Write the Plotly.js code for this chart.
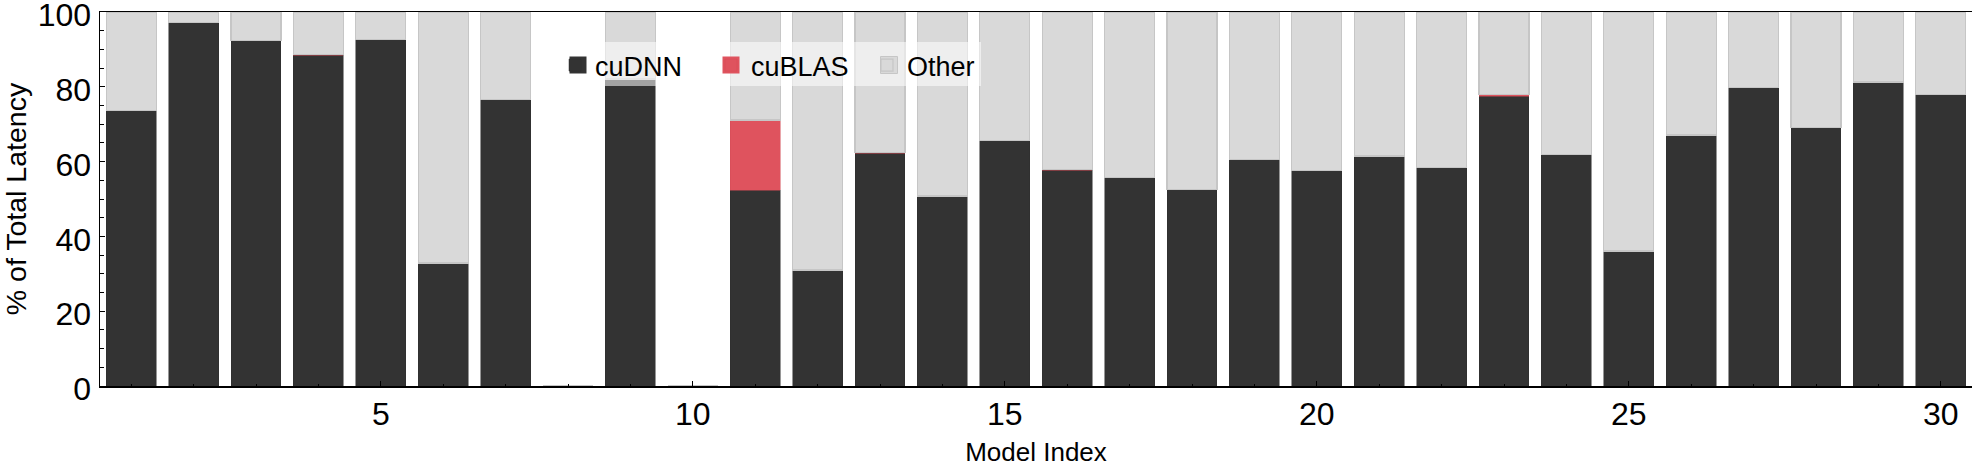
<!DOCTYPE html>
<html>
<head>
<meta charset="utf-8">
<script src="https://cdn.plot.ly/plotly-3.0.1.min.js"></script>
<style>
  html, body { margin: 0; padding: 0; background: #ffffff; }
  #chart { width: 1974px; height: 467px; }
</style>
</head>
<body>
<div id="chart"></div>
<script>
// Model indices 1..30
const modelIndex = [1,2,3,4,5,6,7,8,9,10,11,12,13,14,15,16,17,18,19,20,21,22,23,24,25,26,27,28,29,30];

// % of total latency spent in cuDNN kernels
const cuDNN = [73.7, 97.1, 92.4, 88.4, 92.7, 32.9, 76.7, 0, 81.9, 0,
               52.4, 31.0, 62.2, 50.8, 65.7, 57.7, 55.8, 52.6, 60.6, 57.7,
               61.5, 58.5, 77.5, 62.0, 36.1, 67.1, 79.9, 69.2, 81.3, 78.0];

// % of total latency spent in cuBLAS kernels
const cuBLAS = [0, 0, 0, 0.3, 0, 0, 0, 0, 0.2, 0,
                18.7, 0, 0.3, 0, 0, 0.2, 0, 0, 0, 0,
                0, 0, 0.5, 0, 0, 0, 0, 0, 0, 0];

// % of total latency in everything else (models 8 and 10 have no data)
const other = [26.3, 2.9, 7.6, 11.3, 7.3, 67.1, 23.3, 0, 17.9, 0,
               28.9, 69.0, 37.5, 49.2, 34.3, 42.1, 44.2, 47.4, 39.4, 42.3,
               38.5, 41.5, 22.0, 38.0, 63.9, 32.9, 20.1, 30.8, 18.7, 22.0];

const FONT = "Liberation Sans, Arial, Helvetica, sans-serif";
const COLORS = { cuDNN: "#333333", cuBLAS: "#df535e", other: "#d9d9d9" };

const traces = [
  {
    type: "bar", name: "cuDNN", x: modelIndex, y: cuDNN,
    marker: { color: COLORS.cuDNN, line: { color: "#2e2e2e", width: 0.5 } },
    width: 0.8
  },
  {
    type: "bar", name: "cuBLAS", x: modelIndex, y: cuBLAS,
    marker: { color: COLORS.cuBLAS, line: { color: "#d44b56", width: 0.5 } },
    width: 0.8
  },
  {
    type: "bar", name: "Other", x: modelIndex, y: other,
    marker: { color: COLORS.other, line: { color: "#c6c6c6", width: 1.2 } },
    width: 0.8
  }
];

// plot area in pixels: x 100..1972, y 12..386
const PX = (px) => (px - 100) / 1872;
const PY = (py) => (386 - py) / 374;

// larger legend swatches (decoration placed over the legend symbols)
function swatch(cx, color, lineColor) {
  return { type: "rect", xref: "paper", yref: "paper", layer: "above",
    x0: PX(cx - 8.5), x1: PX(cx + 8.5), y0: PY(73.5), y1: PY(56.5),
    fillcolor: color, line: { color: lineColor || color, width: lineColor ? 1 : 0 } };
}

const layout = {
  width: 1974, height: 467,
  margin: { l: 100, r: 2, t: 12, b: 81, pad: 0 },
  barmode: "stack",
  paper_bgcolor: "#ffffff",
  plot_bgcolor: "#ffffff",
  font: { family: FONT, color: "#000000", size: 27 },
  showlegend: true,
  legend: {
    orientation: "h",
    x: PX(555), y: PY(41), xanchor: "left", yanchor: "top",
    bgcolor: "rgba(255,255,255,0)",
    borderwidth: 0,
    font: { family: FONT, size: 27, color: "#000000" },
    traceorder: "normal",
    entrywidth: 111, entrywidthmode: "pixels"
  },
  shapes: [
    { type: "rect", xref: "paper", yref: "paper", layer: "above",
      x0: PX(553), x1: PX(981), y0: PY(86), y1: PY(42),
      fillcolor: "rgba(255,255,255,0.55)", line: { width: 0 } },
    swatch(578, COLORS.cuDNN, null),
    swatch(731, COLORS.cuBLAS, null),
    swatch(889, COLORS.other, "#c6c6c6")
  ],
  xaxis: {
    range: [0.5, 30.5],
    showgrid: false, zeroline: false,
    showline: true, linecolor: "#000000", linewidth: 1.5, mirror: true,
    ticks: "inside", ticklen: 5, tickwidth: 1, tickcolor: "#000000",
    tick0: 0, dtick: 5,
    tickfont: { family: FONT, size: 32, color: "#000000" },
    ticklabelstandoff: -1,
    ticklabeloverflow: "allow",
    minor: { ticks: "inside", ticklen: 2, tickwidth: 1, tickcolor: "#000000", dtick: 1, tick0: 0, showgrid: false },
    title: { text: "Model Index", font: { family: FONT, size: 26, color: "#000000" }, standoff: 28 }
  },
  yaxis: {
    range: [0, 100],
    showgrid: false, zeroline: false,
    showline: true, linecolor: "#000000", linewidth: 1.5,
    ticks: "inside", ticklen: 5, tickwidth: 1, tickcolor: "#000000",
    tickmode: "array", tickvals: [0, 20, 40, 60, 80, 100],
    tickfont: { family: FONT, size: 32, color: "#000000" },
    ticklabelstandoff: 1,
    ticklabelshift: 3,
    ticklabeloverflow: "allow",
    minor: { ticks: "inside", ticklen: 4, tickwidth: 1, tickcolor: "#000000", dtick: 5, tick0: 0, showgrid: false },
    title: { text: "% of Total Latency", font: { family: FONT, size: 28.5, color: "#000000" }, standoff: 13 }
  }
};

Plotly.newPlot("chart", traces, layout, { displayModeBar: false, staticPlot: true });
</script>
</body>
</html>
